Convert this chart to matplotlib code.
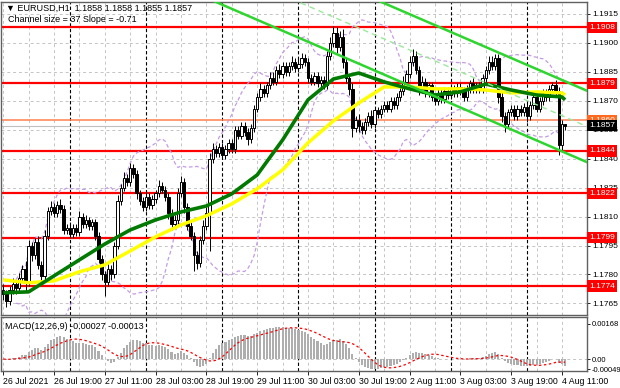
import numpy as np
import pandas as pd
import matplotlib
matplotlib.use("Agg")
from matplotlib import pyplot as plt
from matplotlib import transforms

plt.rcParams['font.family'] = ['Liberation Sans', 'DejaVu Sans']

symbol = "EURUSD,H1"

# hourly closes, 26 Jul 03:00 .. 4 Aug 12:00
close = [
    1.1770, 1.1766, 1.1772, 1.1775, 1.1773, 1.1778, 1.1783, 1.1776, 1.1795, 1.1790,
    1.1797, 1.1785, 1.1779, 1.1800, 1.1813, 1.1815, 1.1812, 1.1816, 1.1814, 1.1803,
    1.1804, 1.1801, 1.1804, 1.1802, 1.1810, 1.1806, 1.1808, 1.1805, 1.1807, 1.1800,
    1.1788, 1.1780, 1.1776, 1.1783, 1.1780, 1.1795, 1.1818, 1.1825, 1.1830, 1.1828,
    1.1835, 1.1832, 1.1822, 1.1818, 1.1815, 1.1820, 1.1816, 1.1819, 1.1822, 1.1826,
    1.1824, 1.1820, 1.1812, 1.1806, 1.1808, 1.1822, 1.1828, 1.1815, 1.1805, 1.1800,
    1.1790, 1.1786, 1.1798, 1.1805, 1.1812, 1.1840, 1.1845, 1.1843, 1.1846, 1.1842,
    1.1845, 1.1848, 1.1845, 1.1855, 1.1852, 1.1857, 1.1854, 1.1850, 1.1856, 1.1866,
    1.1872, 1.1876, 1.1874, 1.1878, 1.1882, 1.1880, 1.1886, 1.1884, 1.1888, 1.1885,
    1.1888, 1.1890, 1.1887, 1.1889, 1.1892, 1.1890, 1.1882, 1.1880, 1.1883, 1.1879,
    1.1881, 1.1878, 1.1893, 1.1900, 1.1905, 1.1898, 1.1903, 1.1890, 1.1882, 1.1876,
    1.1856, 1.1860, 1.1857, 1.1855, 1.1859, 1.1862, 1.1858, 1.1865, 1.1863, 1.1866,
    1.1868, 1.1866, 1.1870, 1.1868, 1.1872, 1.1875, 1.1880, 1.1884, 1.1890, 1.1893,
    1.1886, 1.1876, 1.1880, 1.1874, 1.1878, 1.1872, 1.1870, 1.1874, 1.1871, 1.1875,
    1.1873, 1.1876, 1.1874, 1.1877, 1.1875, 1.1872, 1.1876, 1.1879, 1.1876, 1.1878,
    1.1876, 1.1882, 1.1886, 1.1890, 1.1888, 1.1892, 1.1872, 1.1862, 1.1858, 1.1864,
    1.1866, 1.1862, 1.1866, 1.1864, 1.1867, 1.1862, 1.1868, 1.1872, 1.1866, 1.1870,
    1.1874, 1.1872, 1.1876, 1.1878, 1.1875, 1.1847, 1.1858, 1.1857,
]
first_open = 1.1772

# wicks beyond the body, in pips
up_wick = [
    3, 2, 2, 3, 2, 3, 2, 4, 3, 2,  2, 3, 2, 3, 2, 3, 2, 2, 3, 2,
    2, 3, 2, 2, 3, 2, 3, 2, 2, 2,  2, 2, 2, 3, 2, 2, 3, 2, 3, 2,
    3, 2, 2, 2, 2, 3, 2, 2, 2, 3,  2, 2, 2, 2, 3, 3, 3, 2, 2, 2,
    2, 2, 2, 3, 3, 3, 3, 2, 2, 2,  2, 2, 2, 2, 2, 2, 2, 2, 2, 2,
    2, 3, 2, 2, 3, 3, 2, 3, 2, 2,  2, 3, 2, 3, 3, 2, 2, 2, 2, 2,
    2, 2, 3, 3, 4, 3, 3, 4, 2, 2,  3, 2, 3, 2, 2, 2, 3, 2, 2, 2,
    2, 2, 2, 2, 2, 2, 3, 2, 3, 4,  3, 2, 3, 2, 2, 2, 2, 2, 2, 2,
    2, 2, 2, 2, 2, 2, 2, 2, 3, 2,  2, 2, 2, 3, 3, 2, 2, 3, 2, 2,
    2, 2, 2, 2, 2, 2, 2, 2, 2, 2,  2, 2, 2, 2, 3, 2, 2, 0,
]
dn_wick = [
    3, 3, 2, 2, 3, 2, 2, 5, 2, 3,  2, 2, 3, 2, 2, 2, 2, 2, 2, 2,
    2, 2, 2, 2, 2, 2, 2, 2, 2, 2,  2, 3, 7, 2, 3, 2, 2, 2, 2, 2,
    2, 2, 3, 2, 2, 2, 2, 2, 2, 2,  2, 2, 3, 3, 2, 2, 2, 3, 2, 2,
    8, 3, 2, 2, 2, 20, 2, 2, 2, 2,  2, 2, 2, 2, 2, 2, 2, 3, 2, 2,
    2, 2, 2, 2, 2, 2, 2, 2, 2, 2,  2, 2, 2, 2, 2, 2, 3, 2, 2, 2,
    2, 2, 2, 2, 2, 3, 2, 3, 3, 3,  5, 2, 3, 2, 2, 2, 2, 2, 2, 2,
    2, 2, 2, 2, 2, 2, 2, 2, 2, 2,  2, 3, 2, 2, 2, 2, 2, 2, 2, 2,
    2, 2, 2, 2, 2, 2, 2, 2, 2, 2,  2, 2, 2, 2, 2, 2, 3, 3, 4, 2,
    2, 2, 2, 2, 2, 3, 2, 2, 2, 2,  2, 2, 2, 2, 2, 5, 3, 2,
]

# moving averages read every 8 bars
ma_bars = list(range(0, 177, 8)) + [177]
ma_green = [1.17705, 1.17710, 1.17793, 1.17876, 1.17958, 1.18031, 1.18083, 1.18124,
            1.18155, 1.18218, 1.18316, 1.18497, 1.18705, 1.18813, 1.18844, 1.18798,
            1.18762, 1.18730, 1.18746, 1.18787, 1.18756, 1.18730, 1.18720, 1.18705]
ma_yellow = [1.17772, 1.17757, 1.17767, 1.17814, 1.17850, 1.17922, 1.17995, 1.18057,
             1.18104, 1.18166, 1.18244, 1.18342, 1.18482, 1.18596, 1.18689, 1.18772,
             1.18772, 1.18762, 1.18762, 1.18756, 1.18741, 1.18746, 1.18741, 1.18730]

levels = [1.1908, 1.1879, 1.1844, 1.1822, 1.1799, 1.1774]
level_orange = 1.1860
bid = 1.1857

chan_size = 37       # pips
chan_slope = -0.71   # pips per bar
chan_mid_last = 1.18616

macd_last = (-0.00027, -0.00013)
macd_ticks = [0.00168, 0.0, -0.00049]
macd_tick_labels = ["0.00168", "0.00", "-0.00049"]

price_ticks = [1.1765, 1.1780, 1.1795, 1.1810, 1.1825, 1.1840, 1.1855,
               1.1870, 1.1885, 1.1900, 1.1915]
date_bars = list(range(0, 177, 16))
date_labels = ["26 Jul 2021", "26 Jul 19:00", "27 Jul 11:00", "28 Jul 03:00",
               "28 Jul 19:00", "29 Jul 11:00", "30 Jul 03:00", "30 Jul 19:00",
               "2 Aug 11:00", "3 Aug 03:00", "3 Aug 19:00", "4 Aug 11:00"]
day_breaks = [21, 45, 69, 93, 117, 141, 165]

pip = 0.0001
c = np.array(close)
o = np.r_[first_open, c[:-1]]
h = np.maximum(o, c) + np.array(up_wick) * pip
l = np.minimum(o, c) - np.array(dn_wick) * pip
x = np.arange(len(c))

s = pd.Series(c)
bb_mid = s.rolling(20, min_periods=5).mean()
bb_sd = s.rolling(20, min_periods=5).std(ddof=0)
ema12 = s.ewm(span=12, adjust=False).mean()
ema26 = s.ewm(span=26, adjust=False).mean()
macd = ema12 - ema26
signal = macd.rolling(9, min_periods=1).mean()

W, H = 620, 388
fig = plt.figure(figsize=(W / 100, H / 100), dpi=100)
ax = fig.add_axes([1 / W, 1 - 315 / H, 586 / W, 313 / H])
axm = fig.add_axes([1 / W, 1 - 371 / H, 586 / W, 54 / H])

xlim = (-0.72, 183.9)
grid_kw = dict(color='#c4c4c4', lw=0.7, ls=(0, (3, 3)), zorder=0)
sep_kw = dict(color='black', lw=0.8, ls=(0, (3, 2)), zorder=1)
fs = 6

for a in (ax, axm):
    a.set_xlim(*xlim)
    for b in range(0, 184, 8):
        a.axvline(b, **grid_kw)
    for b in day_breaks:
        a.axvline(b, **sep_kw)
    for sp in a.spines.values():
        sp.set_color('#606060')
        sp.set_linewidth(1.0)
    a.yaxis.tick_right()
    a.tick_params(axis='y', length=2.5, width=0.6, labelsize=fs, pad=1.5)

# main panel
ax.set_ylim(1.17590, 1.19212)
ax.set_yticks(price_ticks)
ax.set_yticklabels([f"{t:.4f}" for t in price_ticks])
for t in price_ticks:
    ax.axhline(t, **grid_kw)
ax.set_xticks([])

for lv in levels:
    ax.axhline(lv, color='#ff0000', lw=1.6, zorder=2)
ax.axhline(level_orange, color='#ff8050', lw=1.1, zorder=2)
ax.axhline(bid, color='#c0c0c0', lw=0.8, zorder=2)

bb_kw = dict(color='#c49be6', lw=0.9, ls=(0, (3, 2)), zorder=3)
ax.plot(x, bb_mid + 2 * bb_sd, **bb_kw)
ax.plot(x, bb_mid - 2 * bb_sd, **bb_kw)

ax.vlines(x, l, h, color='black', lw=0.7, zorder=4)
body = np.where(np.abs(c - o) < 1e-9, 0.00002, c - o)
bull = c >= o
ax.bar(x[bull], body[bull], bottom=o[bull], width=0.75, color='white',
       edgecolor='black', lw=0.7, zorder=5)
ax.bar(x[~bull], body[~bull], bottom=o[~bull], width=0.75, color='black',
       edgecolor='black', lw=0.7, zorder=5)

ax.plot(ma_bars, ma_yellow, color='#ffff00', lw=2.5, zorder=6, solid_capstyle='butt')
ax.plot(ma_bars, ma_green, color='#007a00', lw=2.6, zorder=7, solid_capstyle='butt')

cx = np.array([40, xlim[1]])
mid = chan_mid_last + chan_slope * pip * (cx - 177)
ax.plot(cx, mid, color='#9be89b', lw=1.0, ls=(0, (4, 3)), zorder=8)
ax.plot(cx, mid + chan_size * pip / 2, color='#2ed52e', lw=1.8, zorder=8)
ax.plot(cx, mid - chan_size * pip / 2, color='#2ed52e', lw=1.8, zorder=8)

tr = transforms.blended_transform_factory(ax.transAxes, ax.transData)
lab_x = 1 + 2 / 586
box = dict(boxstyle='square,pad=0.25', ec='none')
for lv in levels:
    ax.text(lab_x, lv, f"{lv:.4f}", transform=tr, color='white', fontsize=fs,
            va='center', ha='left', clip_on=False, zorder=20,
            bbox=dict(box, fc='#ff0000'))
ax.text(lab_x, level_orange, f"{level_orange:.4f}", transform=tr, color='white',
        fontsize=fs, va='center', ha='left', clip_on=False, zorder=20,
        bbox=dict(box, fc='#ff6a20'))
ax.text(lab_x, bid, f"{bid:.4f}", transform=tr, color='white', fontsize=fs,
        va='center', ha='left', clip_on=False, zorder=21,
        bbox=dict(box, fc='black'))

fig.text(6 / W, 1 - 8 / H,
         f"\u25bc {symbol}  {o[-1]:.4f} {h[-1]:.4f} {l[-1]:.4f} {c[-1]:.4f}",
         fontsize=6.5, va='center', ha='left', zorder=30)
fig.text(8 / W, 1 - 19 / H, f"Channel size = {chan_size} Slope = {chan_slope:.2f}",
         fontsize=6.5, va='center', ha='left', zorder=30)

# MACD panel
axm.set_ylim(-0.000576, 0.002016)
axm.axhline(0, **grid_kw)
axm.bar(x, macd, width=0.65, color='#aeaeae', zorder=2)
axm.plot(x, signal, color='#ff0000', lw=0.9, ls=(0, (2, 2)), zorder=3)
axm.set_yticks(macd_ticks)
axm.set_yticklabels(macd_tick_labels)
axm.tick_params(axis='y', labelsize=5.5, pad=1)
axm.text(0.007, 0.9, f"MACD(12,26,9) {macd_last[0]:.5f} {macd_last[1]:.5f}",
         transform=axm.transAxes, fontsize=6.5, va='top', ha='left')
axm.set_xticks(date_bars)
axm.set_xticklabels(date_labels, ha='left')
axm.tick_params(axis='x', length=3, width=0.6, labelsize=6.3, pad=1)

fig.savefig("out.png", dpi=100, facecolor='white')
